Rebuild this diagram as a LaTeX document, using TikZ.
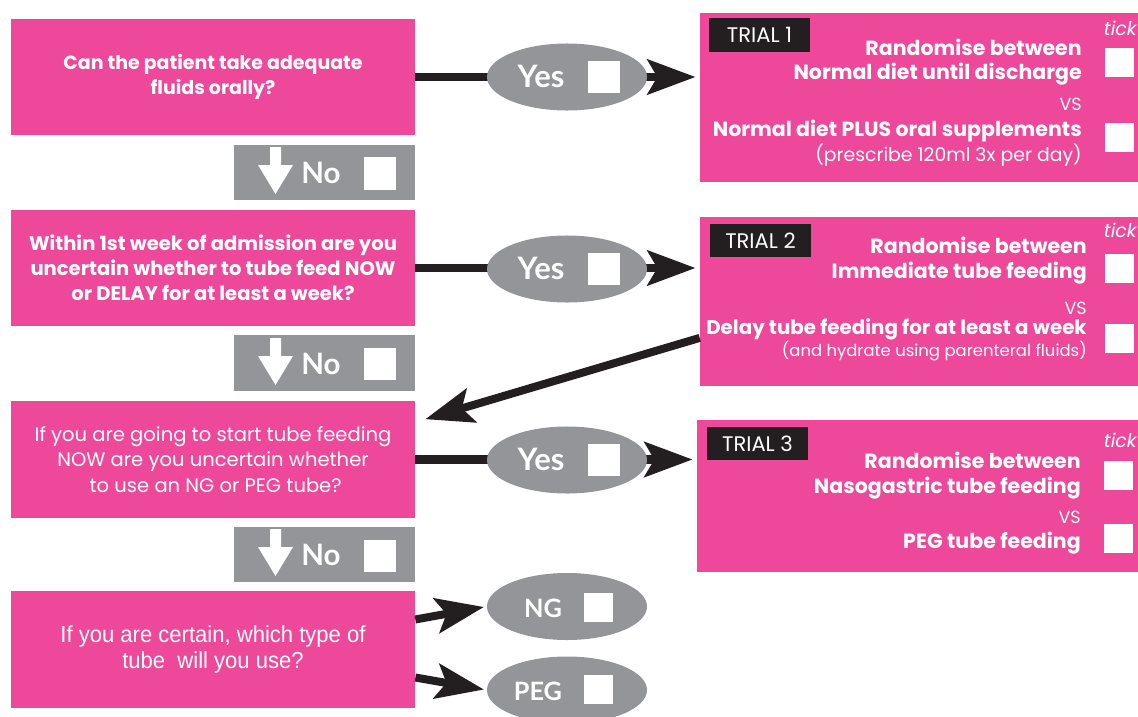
\documentclass[tikz,border=0pt]{standalone}
\usepackage{fontspec}
\setmainfont{Lato}
\newfontfamily\trialfont{Poppins}
\newfontfamily\narrowfont[FakeStretch=0.95]{Liberation Sans}
\usetikzlibrary{shapes.geometric,arrows.meta,backgrounds}
\definecolor{pinkq}{RGB}{238,72,154}
\definecolor{greyq}{RGB}{148,149,153}
\definecolor{blackq}{RGB}{35,31,32}
\begin{document}
\begin{tikzpicture}[x=0.025cm, y=-0.025cm,
    qbox/.style={fill=pinkq, text=white, minimum width=10.1cm, minimum height=2.9cm,
        inner sep=0pt, align=center, font=\trialfont\fontsize{13.9}{17.9}\selectfont},
    nobar/.style={fill=greyq, minimum width=4.525cm, minimum height=1.375cm, inner sep=0pt},
    yesell/.style={ellipse, fill=greyq, minimum width=4cm, minimum height=1.675cm, inner sep=0pt},
    bigword/.style={anchor=base, text=white, inner sep=0pt, font=\bfseries\fontsize{21}{21}\selectfont},
    chkbox/.style={fill=white, minimum size=0.8cm, inner sep=0pt},
    tickbox/.style={fill=white, minimum width=0.725cm, minimum height=0.725cm, inner sep=0pt},
    trialbox/.style={fill=pinkq, minimum width=10.95cm, minimum height=4.225cm, inner sep=0pt},
    triallabel/.style={fill=blackq, text=white, minimum width=2.525cm, minimum height=0.825cm,
        inner sep=0pt, font=\trialfont\fontsize{15}{15}\selectfont},
    opt/.style={anchor=base east, text=white, inner sep=0pt, font=\trialfont\bfseries\fontsize{14.6}{14.6}\selectfont},
    note/.style={anchor=base east, text=white, inner sep=0pt, font=\trialfont\fontsize{13.4}{13.4}\selectfont},
    vs/.style={anchor=base east, text=white, inner sep=0pt, font=\trialfont\fontsize{12.5}{12.5}\selectfont},
    ticktext/.style={anchor=base east, text=white, inner sep=0pt, font=\trialfont\itshape\fontsize{13.5}{13.5}\selectfont},
    conn/.style={draw=blackq, line width=5.7pt, -{Stealth[length=1.2cm, width=0.875cm, inset=0.25cm]}}]
\useasboundingbox (0,0) rectangle (1138,717);

% questions on the left
\node[qbox, font=\trialfont\fontsize{13.5}{17.9}\selectfont] (q1) at (213,77) {\bfseries Can the patient take adequate\\\bfseries fluids orally?};
\node[qbox] (q2) at (213,268) {\bfseries Within 1st week of admission are you\\\bfseries uncertain whether to tube feed NOW\\\bfseries or DELAY for at least a week?};
\node[qbox] (q3) at (213,459.5) {If you are going to start tube feeding\\NOW are you uncertain whether\\\ to use an NG or PEG tube?};
\node[qbox, font=\narrowfont\fontsize{16.5}{17.9}\selectfont] (q4) at (213,649.5) {If you are certain, which type of\\tube~ will you use?};

% the No bars
\node[nobar] (n1) at (324.5,172.5) {};
\node[nobar] (n2) at (324.5,363) {};
\node[nobar] (n3) at (324.5,554.5) {};
\fill[white] (270,147)--(281,147)--(281,165)--(293,165)--(275.5,194)--(258,165)--(270,165)--cycle;
\fill[white, shift={(0,191)}] (270,147)--(281,147)--(281,165)--(293,165)--(275.5,194)--(258,165)--(270,165)--cycle;
\fill[white, shift={(0,382)}] (270,147)--(281,147)--(281,165)--(293,165)--(275.5,194)--(258,165)--(270,165)--cycle;
\node[bigword, anchor=base west] (n1t) at (301,183) {No};
\node[bigword, anchor=base west] (n2t) at (301,374) {No};
\node[bigword, anchor=base west] (n3t) at (301,565) {No};
\node[chkbox] (n1c) at (380,173.5) {};
\node[chkbox] (n2c) at (380,364) {};
\node[chkbox] (n3c) at (380,555.5) {};

% trial boxes
\node[trialbox] (t1) at (919,97.5) {};
\node[trialbox] (t2) at (919,301.5) {};
\node[trialbox, minimum width=11.025cm, minimum height=3.8cm] (t3) at (917.5,496) {};
\node[triallabel] (t1l) at (759.5,35) {TRIAL 1};
\node[triallabel] (t2l) at (760.5,240.5) {TRIAL 2};
\node[triallabel] (t3l) at (757.5,443.5) {TRIAL 3};

\node[ticktext] (t1k) at (1137,35) {tick};
\node[opt] (t1r) at (1082,55) {Randomise between};
\node[opt] (t1a) at (1082,79) {Normal diet until discharge};
\node[vs] (t1v) at (1082,110) {VS};
\node[opt] (t1b) at (1082,136) {Normal diet PLUS oral supplements};
\node[note] (t1n) at (1082,161) {(prescribe 120ml 3x per day)};
\node[tickbox] (t1ca) at (1119,62.5) {};
\node[tickbox] (t1cb) at (1119,137.5) {};

\node[ticktext] (t2k) at (1137,237) {tick};
\node[opt] (t2r) at (1087,253) {Randomise between};
\node[opt] (t2a) at (1087,278) {Immediate tube feeding};
\node[vs] (t2v) at (1087,314) {VS};
\node[opt, font=\trialfont\bfseries\fontsize{14.1}{14.1}\selectfont] (t2b) at (1087,334) {Delay tube feeding for at least a week};
\node[note, font=\trialfont\fontsize{11.7}{11.7}\selectfont] (t2n) at (1087,356) {(and hydrate using parenteral fluids)};
\node[tickbox] (t2ca) at (1119,268.5) {};
\node[tickbox] (t2cb) at (1119,338.5) {};

\node[ticktext] (t3k) at (1137,447) {tick};
\node[opt] (t3r) at (1081,468) {Randomise between};
\node[opt] (t3a) at (1081,493) {Nasogastric tube feeding};
\node[vs] (t3v) at (1081,523) {VS};
\node[opt] (t3b) at (1081,548) {PEG tube feeding};
\node[tickbox] (t3ca) at (1118,475.5) {};
\node[tickbox] (t3cb) at (1118,538.5) {};

% Yes ovals
\node[yesell] (y1) at (567,77) {};
\node[yesell] (y2) at (567,269) {};
\node[yesell] (y3) at (567,460) {};
\node[bigword, font=\bfseries\fontsize{22}{22}\selectfont] (y1t) at (541,87) {Yes};
\node[bigword, font=\bfseries\fontsize{22}{22}\selectfont] (y2t) at (541,279) {Yes};
\node[bigword, font=\bfseries\fontsize{22}{22}\selectfont] (y3t) at (541,470) {Yes};
\node[chkbox] (y1c) at (604,77) {};
\node[chkbox] (y2c) at (604,269) {};
\node[chkbox] (y3c) at (604,460) {};

% NG and PEG ovals
\node[yesell] (ng) at (567,606.5) {};
\node[yesell] (peg) at (567,690) {};
\node[bigword, font=\bfseries\fontsize{18}{18}\selectfont] (ngt) at (543,617) {NG};
\node[bigword, font=\bfseries\fontsize{18}{18}\selectfont] (pegt) at (538,700) {PEG};
\node[tickbox] (ngc) at (598,607) {};
\node[tickbox] (pegc) at (598,689.5) {};

% connectors
\begin{scope}[on background layer]
\draw[conn, shorten >=3pt] (q1.east) -- (q1.east -| t1.west);
\draw[conn, shorten >=3pt] (q2.east) -- (q2.east -| t2.west);
\draw[conn, shorten >=3pt] (q3.east) -- (q3.east -| t3.west);
\end{scope}
\draw[conn] ([yshift=-0.91cm]t2.west) -- ([xshift=0.25cm, yshift=-0.45cm]q3.north east);
\draw[conn, shorten >=2pt] ([yshift=0.75cm]q4.east) -- (ng.west);
\draw[conn, shorten >=2pt] ([yshift=-0.7cm]q4.east) -- (peg.west);
\end{tikzpicture}
\end{document}
